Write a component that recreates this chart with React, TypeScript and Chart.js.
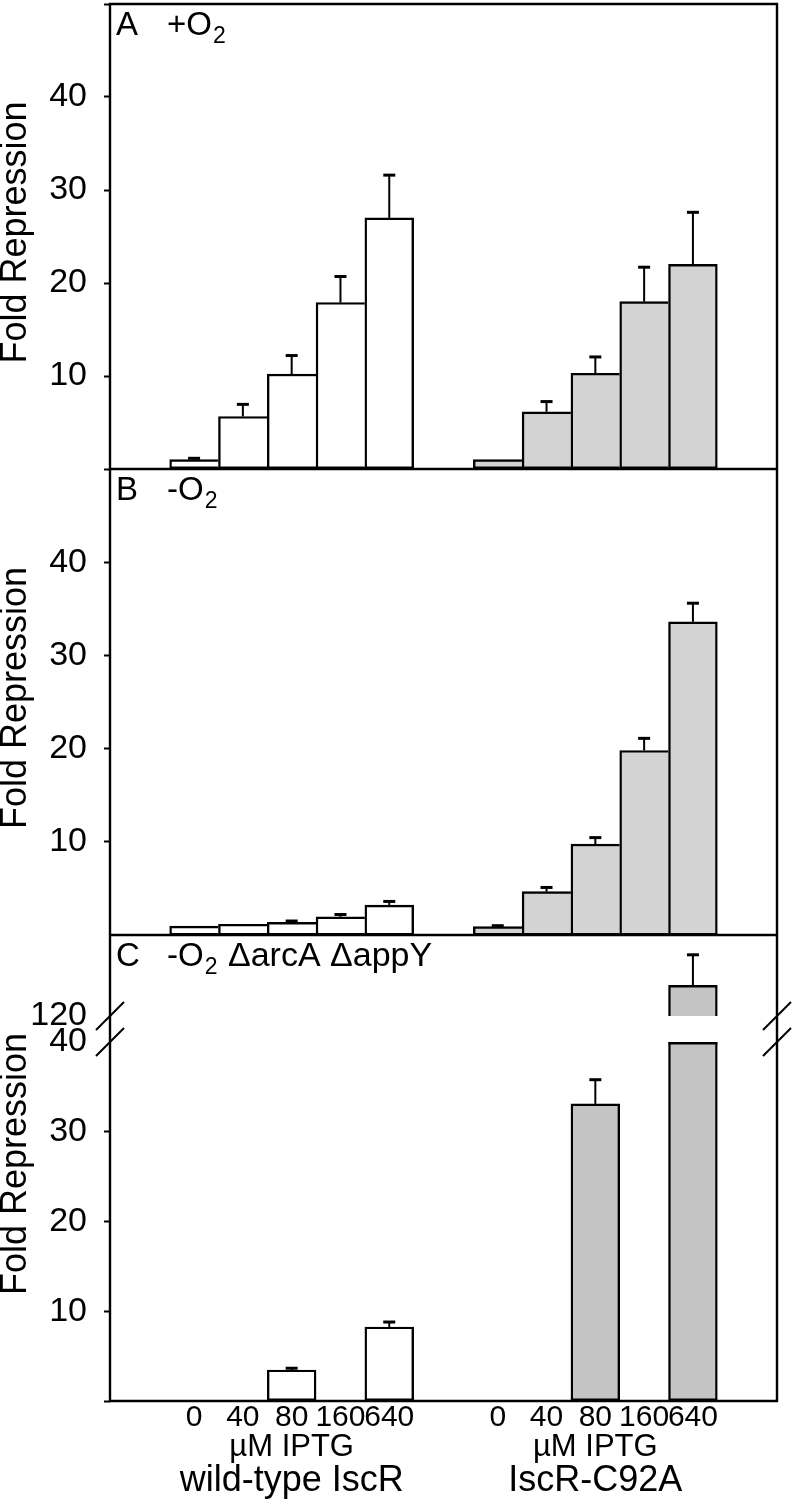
import { useEffect, useRef } from 'react';
import { Chart, registerables } from 'chart.js';

Chart.register(...registerables);

// ---------- data ----------
const DOSES = ['0', '40', '80', '160', '640'];
const GROUPS = ['wild-type IscR', 'IscR-C92A'];
const UNIT_LABEL = 'µM IPTG';
const Y_TITLE = 'Fold Repression';

// Panel A: +O2
const A_WT = [1.0, 5.65, 10.2, 17.9, 27.0];
const A_WT_ERR = [0.15, 1.3, 2.0, 2.8, 4.6];
const A_C92A = [1.0, 6.15, 10.3, 18.0, 22.0];
const A_C92A_ERR = [0, 1.1, 1.75, 3.7, 5.6];

// Panel B: -O2
const B_WT = [0.95, 1.15, 1.35, 1.95, 3.2];
const B_WT_ERR = [0, 0, 0.15, 0.25, 0.4];
const B_C92A = [0.9, 4.65, 9.75, 19.8, 33.6];
const B_C92A_ERR = [0.1, 0.45, 0.7, 1.3, 2.0];

// Panel C: -O2 ΔarcA ΔappY
const C_WT = [null, null, 3.45, null, 8.25];
const C_WT_ERR = [null, null, 0.2, null, 0.55];
const C_C92A = [null, null, 33.1, null, 123.4];
const C_C92A_ERR = [null, null, 2.7, null, 3.4];

const Y_LABELLED = [10, 20, 30, 40];
const Y_TICKS_A = [0, 10, 20, 30, 40, 50];
const Y_TICKS_B = [10, 20, 30, 40];
const Y_TICKS_C_LOW = [0, 10, 20, 30, 40];
const Y_TICKS_C_UP = [120];

// ---------- layout constants (slot units, one slot = one bar) ----------
const MARGIN = 1.223;
const GROUP_OFFSET = 5 + MARGIN;
const XMIN = -0.5 - MARGIN;
const XMAX = GROUP_OFFSET + 4.5 + MARGIN;

const FONT = "'Liberation Sans', Arial, Helvetica, sans-serif";
const GRAY_AB = '#d3d3d3';
const GRAY_C = '#c4c4c4';
const LINE = 2.4;

type Num = number | null;

const toPoints = (vals: Num[], offset: number) => vals.map((v, i) => ({ x: i + offset, y: v }));

const borderWidthFn = (ctx: any) => {
  const d = ctx.dataset.data;
  const i = ctx.dataIndex;
  const cur = d[i] ? d[i].y : null;
  const nxt = d[i + 1] ? d[i + 1].y : null;
  const shared = cur != null && nxt != null && nxt >= cur;
  return { top: LINE, left: LINE, bottom: LINE, right: shared ? 0 : LINE };
};

const mkDataset = (vals: Num[], errs: Num[], offset: number, yAxisID: string, fill: string) => ({
  data: toPoints(vals, offset),
  errors: errs,
  xAxisID: 'x',
  yAxisID,
  backgroundColor: fill,
  borderColor: '#000',
  borderWidth: borderWidthFn,
  borderSkipped: false,
  grouped: false,
  barPercentage: 1,
  categoryPercentage: 1,
});

const panelPlugin = {
  id: 'panelPlugin',
  beforeDatasetDraw(chart: any, args: any) {
    const ys = chart.scales[args.meta.yAxisID];
    const { left, right } = chart.chartArea;
    const ctx = chart.ctx;
    ctx.save();
    ctx.beginPath();
    ctx.rect(left, ys.top, right - left, ys.bottom - ys.top);
    ctx.clip();
  },
  afterDatasetDraw(chart: any, args: any) {
    const meta = args.meta;
    const ds = chart.data.datasets[args.index];
    const ys = chart.scales[meta.yAxisID];
    const ctx = chart.ctx;
    const errs = ds.errors || [];
    ctx.strokeStyle = '#000';
    meta.data.forEach((bar: any, i: number) => {
      const v = ds.data[i].y;
      if (v == null) return;
      const half = bar.width / 2;
      if (v > ys.max) {
        ctx.lineWidth = LINE;
        ctx.beginPath();
        ctx.moveTo(bar.x - half, ys.top + LINE / 2);
        ctx.lineTo(bar.x + half, ys.top + LINE / 2);
        ctx.stroke();
      }
      const e = errs[i];
      if (e == null || e <= 0) return;
      const yBar = ys.getPixelForValue(v);
      const yTop = ys.getPixelForValue(v + e);
      ctx.lineWidth = 2;
      ctx.beginPath();
      ctx.moveTo(bar.x, yBar);
      ctx.lineTo(bar.x, yTop);
      ctx.stroke();
      ctx.lineWidth = 3;
      ctx.beginPath();
      ctx.moveTo(bar.x - 6, yTop);
      ctx.lineTo(bar.x + 6, yTop);
      ctx.stroke();
    });
    ctx.restore();
  },
  afterDatasetsDraw(chart: any) {
    const ctx = chart.ctx;
    const { left, right, top, bottom } = chart.chartArea;
    const s = chart.scales;
    ctx.save();
    ctx.strokeStyle = '#000';
    ctx.lineWidth = LINE;
    ctx.beginPath();
    ctx.moveTo(left, top - 1);
    ctx.lineTo(left, bottom + 1);
    ctx.moveTo(right, top - 1);
    ctx.lineTo(right, bottom + 1);
    [top, s.yA.bottom, s.yB.bottom, bottom].forEach((y: number) => {
      ctx.moveTo(left - 1, y);
      ctx.lineTo(right + 1, y);
    });
    ctx.stroke();
    // axis break marks
    ctx.lineWidth = 2;
    ctx.beginPath();
    [left, right].forEach((x: number) => {
      [s.yCu.bottom, s.yCl.top].forEach((y: number) => {
        ctx.moveTo(x - 14, y + 14);
        ctx.lineTo(x + 14, y - 14);
      });
    });
    ctx.stroke();
    ctx.restore();
  },
  afterDraw(chart: any) {
    const ctx = chart.ctx;
    const { left } = chart.chartArea;
    const s = chart.scales;
    ctx.save();
    ctx.fillStyle = '#000';
    // y titles
    const panels = [
      [s.yA.top, s.yA.bottom],
      [s.yB.top, s.yB.bottom],
      [s.yCu.top, s.yCl.bottom],
    ];
    ctx.font = `36px ${FONT}`;
    ctx.textAlign = 'center';
    ctx.textBaseline = 'alphabetic';
    panels.forEach(([t, b]) => {
      ctx.save();
      ctx.translate(26, (t + b) / 2 - 4);
      ctx.rotate(-Math.PI / 2);
      ctx.fillText(Y_TITLE, 0, 0);
      ctx.restore();
    });
    // panel labels
    ctx.textAlign = 'left';
    const drawLabel = (top: number, letter: string, pre: string, post: string) => {
      const base = top + 31;
      ctx.font = `33px ${FONT}`;
      ctx.fillText(letter, left + 6, base);
      const x0 = left + 57;
      ctx.fillText(pre, x0, base);
      const w = ctx.measureText(pre).width;
      ctx.font = `23px ${FONT}`;
      ctx.fillText('2', x0 + w + 1, base + 8);
      if (post) {
        ctx.font = `34px ${FONT}`;
        ctx.fillText(post, left + 118, base);
      }
    };
    drawLabel(s.yA.top, 'A', '+O', '');
    drawLabel(s.yB.top, 'B', '-O', '');
    drawLabel(s.yCu.top, 'C', '-O', 'ΔarcA ΔappY');
    ctx.restore();
  },
};

const yScale = (
  weight: number,
  stackWeight: number,
  min: number,
  max: number,
  ticks: number[],
  labelled: number[],
  markless: number[],
) => ({
  type: 'linear',
  position: 'left',
  stack: 'panels',
  stackWeight,
  weight,
  min,
  max,
  beginAtZero: false,
  afterBuildTicks: (sc: any) => {
    sc.ticks = ticks.map((v) => ({ value: v }));
  },
  afterFit: (sc: any) => {
    sc.width = 110;
    sc.paddingTop = 0;
    sc.paddingBottom = 0;
  },
  ticks: {
    autoSkip: false,
    color: '#000',
    padding: 17,
    font: { size: 34, family: FONT },
    callback: (v: number) => (labelled.includes(v) ? String(v) : ''),
  },
  grid: {
    display: true,
    drawOnChartArea: false,
    drawTicks: true,
    tickLength: 6,
    tickWidth: 2,
    tickColor: (ctx: any) => (ctx.tick && markless.includes(ctx.tick.value) ? 'rgba(0,0,0,0)' : '#000'),
  },
  border: { display: false },
});

const xScale = (weight: number, height: number, size: number, padding: number, values: number[], labels: string[]) => ({
  type: 'linear',
  position: 'bottom',
  weight,
  min: XMIN,
  max: XMAX,
  offset: false,
  afterBuildTicks: (sc: any) => {
    sc.ticks = values.map((v) => ({ value: v }));
  },
  afterFit: (sc: any) => {
    sc.height = height;
    sc.paddingLeft = 0;
    sc.paddingRight = 0;
  },
  ticks: {
    autoSkip: false,
    maxRotation: 0,
    minRotation: 0,
    color: '#000',
    padding,
    font: { size, family: FONT, lineHeight: 1 },
    callback: (_v: number, i: number) => labels[i],
  },
  grid: { display: false, drawTicks: false },
  border: { display: false },
});

export default function App() {
  const ref = useRef<HTMLCanvasElement | null>(null);

  useEffect(() => {
    if (!ref.current) return;
    Chart.defaults.font.family = FONT;
    Chart.defaults.color = '#000';

    const doseTicks = [...DOSES.map((_, i) => i), ...DOSES.map((_, i) => i + GROUP_OFFSET)];
    const doseLabels = [...DOSES, ...DOSES];
    const groupTicks = [2, 2 + GROUP_OFFSET];

    const chart = new Chart(ref.current, {
      type: 'bar',
      data: {
        datasets: [
          mkDataset(A_WT, A_WT_ERR, 0, 'yA', '#ffffff'),
          mkDataset(A_C92A, A_C92A_ERR, GROUP_OFFSET, 'yA', GRAY_AB),
          mkDataset(B_WT, B_WT_ERR, 0, 'yB', '#ffffff'),
          mkDataset(B_C92A, B_C92A_ERR, GROUP_OFFSET, 'yB', GRAY_AB),
          mkDataset(C_WT, C_WT_ERR, 0, 'yCl', '#ffffff'),
          mkDataset(C_C92A, C_C92A_ERR, GROUP_OFFSET, 'yCl', GRAY_C),
          mkDataset(C_C92A, C_C92A_ERR, GROUP_OFFSET, 'yCu', GRAY_C),
        ] as any,
      },
      options: {
        responsive: false,
        animation: false,
        events: [],
        layout: { padding: { top: 4, right: 15, bottom: 3, left: 0 } },
        plugins: { legend: { display: false }, tooltip: { enabled: false } },
        scales: {
          x: xScale(0, 31, 30, 2, doseTicks, doseLabels),
          x2: xScale(1, 31, 31, 0, groupTicks, [UNIT_LABEL, UNIT_LABEL]),
          x3: xScale(2, 36, 36, 0, groupTicks, GROUPS),
          yA: yScale(5, 465, 0, 50, Y_TICKS_A, Y_LABELLED, []),
          yB: yScale(4, 466, 0, 50, Y_TICKS_B, Y_LABELLED, []),
          yCu: yScale(3, 81, 120, 129, Y_TICKS_C_UP, Y_TICKS_C_UP, Y_TICKS_C_UP),
          yCg: {
            type: 'linear',
            position: 'left',
            stack: 'panels',
            stackWeight: 26,
            weight: 2,
            min: 0,
            max: 1,
            afterFit: (sc: any) => {
              sc.width = 110;
              sc.paddingTop = 0;
              sc.paddingBottom = 0;
            },
            ticks: { display: false },
            grid: { display: false, drawTicks: false },
            border: { display: false },
          },
          yCl: yScale(1, 359, 0, 40, Y_TICKS_C_LOW, Y_LABELLED, [40]),
        } as any,
      },
      plugins: [panelPlugin],
    });
    return () => chart.destroy();
  }, []);

  return (
    <div style={{ position: 'absolute', left: 0, top: 0, width: 792, height: 1502, background: '#fff' }}>
      <canvas ref={ref} width={792} height={1502} style={{ display: 'block' }} />
    </div>
  );
}
